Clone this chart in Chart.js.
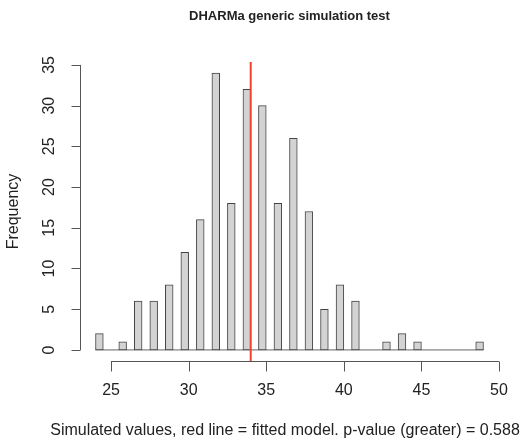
<!DOCTYPE html>
<html>
<head>
<meta charset="utf-8">
<script src="https://cdn.jsdelivr.net/npm/chart.js@4/dist/chart.umd.min.js"></script>
<style>
  html, body { margin: 0; padding: 0; background: #fff; }
</style>
</head>
<body>
<canvas id="histChart" width="530" height="442"></canvas>
<script>
// simulated values and how many of the 250 simulations gave each one
const simValues = [24, 25, 26, 27, 28, 29, 30, 31, 32, 33, 34, 35, 36, 37, 38, 39, 40, 41, 42, 43, 44, 45, 46, 47, 48, 49];
const simCounts = [2, 0, 1, 6, 6, 8, 12, 16, 34, 18, 32, 30, 18, 26, 17, 5, 8, 6, 0, 1, 2, 1, 0, 0, 0, 1];
const observedValue = 34;

const xTicks = [25, 30, 35, 40, 45, 50];
const yTicks = [0, 5, 10, 15, 20, 25, 30, 35];

const chartTitle = "DHARMa generic simulation test";
const xTitle = "Simulated values, red line = fitted model. p-value (greater) = 0.588";
const yTitle = "Frequency";

// histogram breaks every 0.5, like R's hist() picked them
const binWidth = 0.5;
const binBreaks = [];
for (let b = simValues[0]; b <= simValues[simValues.length - 1] + 1e-9; b += binWidth) binBreaks.push(b);

// right-closed bins, lowest one includes its left edge
const bins = [];
for (let i = 0; i < binBreaks.length - 1; i++) {
    const lo = binBreaks[i], hi = binBreaks[i + 1];
    let n = 0;
    simValues.forEach((v, j) => {
        if ((v > lo || (i === 0 && v === lo)) && v <= hi) n += simCounts[j];
    });
    bins.push({ x: (lo + hi) / 2, y: n });
}

const FONT = '"Liberation Sans", Arial, Helvetica, sans-serif';

// R style base graphics axes + titles + observed line
const rStyle = {
    id: "rStyle",
    afterDatasetsDraw(chart) {
        const { ctx, chartArea, scales: { x, y } } = chart;
        ctx.save();

        // observed value
        const ox = x.getPixelForValue(observedValue);
        ctx.strokeStyle = "#f2402b";
        ctx.lineWidth = 2;
        ctx.beginPath();
        ctx.moveTo(ox, chartArea.top);
        ctx.lineTo(ox, chartArea.bottom);
        ctx.stroke();

        ctx.strokeStyle = "#555";
        ctx.lineWidth = 1;
        ctx.fillStyle = "#222";

        // x axis
        const axY = Math.round(chartArea.bottom) + 0.5;
        ctx.beginPath();
        ctx.moveTo(x.getPixelForValue(xTicks[0]), axY);
        ctx.lineTo(x.getPixelForValue(xTicks[xTicks.length - 1]), axY);
        xTicks.forEach(t => {
            const px = Math.round(x.getPixelForValue(t)) + 0.5;
            ctx.moveTo(px, axY);
            ctx.lineTo(px, axY + 10);
        });
        ctx.stroke();
        ctx.font = "16px " + FONT;
        ctx.textAlign = "center";
        ctx.textBaseline = "middle";
        xTicks.forEach(t => ctx.fillText(String(t), x.getPixelForValue(t), 391));

        // y axis
        const axX = Math.round(chartArea.left) + 0.5;
        ctx.beginPath();
        ctx.moveTo(axX, y.getPixelForValue(yTicks[0]));
        ctx.lineTo(axX, y.getPixelForValue(yTicks[yTicks.length - 1]));
        yTicks.forEach(t => {
            const py = Math.round(y.getPixelForValue(t)) + 0.5;
            ctx.moveTo(axX, py);
            ctx.lineTo(axX - 9, py);
        });
        ctx.stroke();
        yTicks.forEach(t => {
            ctx.save();
            ctx.translate(50, y.getPixelForValue(t));
            ctx.rotate(-Math.PI / 2);
            ctx.fillText(String(t), 0, 0);
            ctx.restore();
        });

        // titles
        ctx.fillText(xTitle, 285, 431);
        ctx.save();
        ctx.translate(14, (chartArea.top + chartArea.bottom) / 2);
        ctx.rotate(-Math.PI / 2);
        ctx.fillText(yTitle, 0, 0);
        ctx.restore();

        ctx.font = "bold 13px " + FONT;
        ctx.fillText(chartTitle, (chartArea.left + chartArea.right) / 2, 16);

        ctx.restore();
    }
};

const ctx = document.getElementById("histChart").getContext("2d");
new Chart(ctx, {
    type: "bar",
    data: {
        datasets: [
            {
                type: "bar",
                data: bins,
                backgroundColor: "#d3d3d3",
                borderColor: "#444",
                borderWidth: 1,
                borderSkipped: false,
                barPercentage: 1,
                categoryPercentage: 1,
                order: 1
            },
            {
                // zero-count bins show as a flat line in R
                type: "line",
                data: [{ x: binBreaks[0], y: 0 }, { x: binBreaks[binBreaks.length - 1], y: 0 }],
                borderColor: "#666",
                borderWidth: 1,
                pointRadius: 0,
                order: 2
            }
        ]
    },
    options: {
        responsive: false,
        animation: false,
        layout: { padding: { left: 80, right: 31, top: 62, bottom: 81 } },
        scales: {
            x: { type: "linear", min: 23, max: 50, offset: false, display: false },
            y: { min: -1.36, max: 35.36, display: false }
        },
        plugins: {
            legend: { display: false },
            tooltip: { enabled: false }
        }
    },
    plugins: [rStyle]
});
</script>
</body>
</html>
